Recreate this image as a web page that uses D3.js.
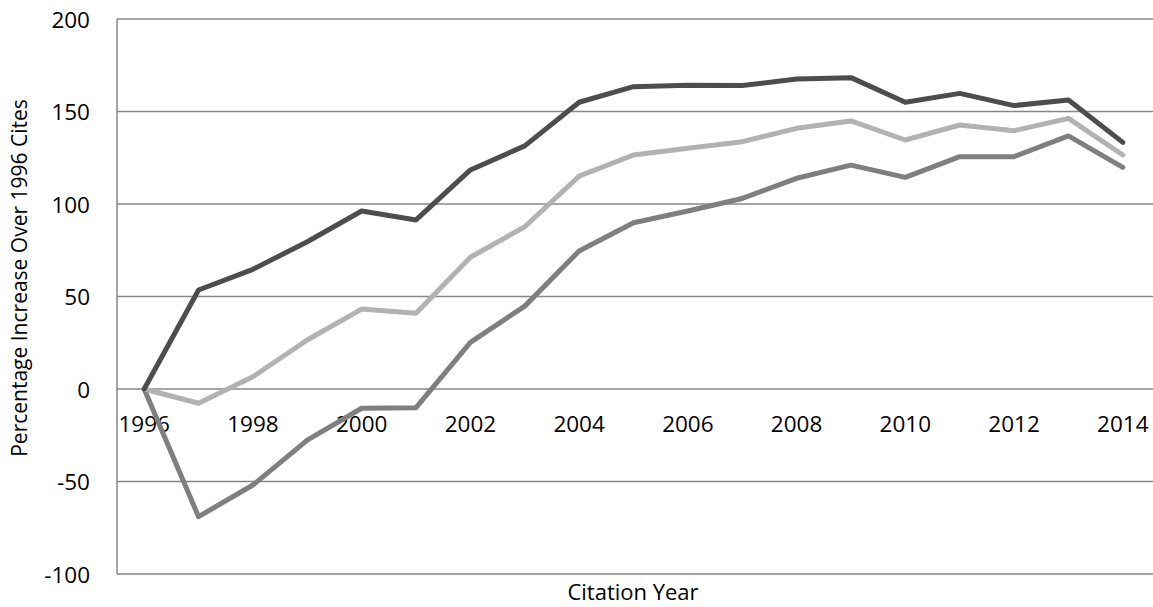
<!DOCTYPE html>
<html>
<head>
<meta charset="utf-8">
<script src="https://cdn.jsdelivr.net/npm/d3@7"></script>
<style>
  html, body { margin: 0; padding: 0; background: #fff; }
  svg text { font-family: "Open Sans", Lato, sans-serif; fill: #000; }
</style>
</head>
<body>
<svg id="chart" width="1153" height="607"></svg>
<script>
const years = [1996,1997,1998,1999,2000,2001,2002,2003,2004,2005,2006,2007,2008,2009,2010,2011,2012,2013,2014];
const xTickLabels = ["1996","1998","2000","2002","2004","2006","2008","2010","2012","2014"];
const yTicks = [-100,-50,0,50,100,150,200];
const seriesDark   = [0,53.5,64.7,79.6,96.2,91.4,118.4,131.4,155,163.4,164.2,164,167.6,168.3,155,159.8,153.2,156.2,133.3];
const seriesLight  = [0,-7.7,6.6,26.5,43.2,40.9,71.2,87.7,115.1,126.5,130.1,133.7,140.9,144.9,134.6,142.7,139.6,146.3,126.5];
const seriesMedium = [0,-69,-51.9,-27.6,-10.4,-10.1,25.2,44.8,74.6,89.9,96.2,103,113.9,121,114.4,125.6,125.6,136.8,119.8];
const seriesColors = ["#7f7f7f", "#b2b2b2", "#4d4d4d"];

(function () {
const svg = d3.select("#chart");
const W = 1153;
const pLeft = 117, pRight = 1150, pTop = 19, pBottom = 574;

const x = d3.scalePoint().domain(years).range([pLeft, pRight]).padding(0.5);
const y = d3.scaleLinear().domain([-100, 200]).range([pBottom, pTop]);

// gridlines
svg.append("g").selectAll("line").data(yTicks).join("line")
  .attr("x1", pLeft).attr("x2", W)
  .attr("y1", d => y(d)).attr("y2", d => y(d))
  .attr("stroke", "#878787").attr("stroke-width", 1.5);

// left axis line
svg.append("line")
  .attr("x1", pLeft).attr("x2", pLeft).attr("y1", y(200)).attr("y2", y(-100))
  .attr("stroke", "#878787").attr("stroke-width", 1.5);

// y tick labels
svg.append("g").selectAll("text").data(yTicks).join("text")
  .attr("x", 90).attr("y", d => y(d))
  .attr("text-anchor", "end").attr("dominant-baseline", "central")
  .style("font-size", "22.5px")
  .text(d => d);

// x tick labels
svg.append("g").selectAll("text").data(xTickLabels).join("text")
  .attr("x", d => x(+d)).attr("y", y(0) + 43)
  .attr("text-anchor", "middle")
  .style("font-size", "22.5px")
  .text(d => d);

// axis titles
svg.append("text")
  .attr("x", 633).attr("y", 600)
  .attr("text-anchor", "middle").style("font-size", "22px")
  .text("Citation Year");

svg.append("text")
  .attr("transform", "translate(27, 278) rotate(-90)")
  .attr("text-anchor", "middle").style("font-size", "21px")
  .text("Percentage Increase Over 1996 Cites");

// lines
const line = d3.line().x((d, i) => x(years[i])).y(d => y(d));
const allSeries = [seriesMedium, seriesLight, seriesDark];
svg.append("g").selectAll("path").data(allSeries).join("path")
  .attr("d", d => line(d))
  .attr("fill", "none")
  .attr("stroke", (d, i) => seriesColors[i])
  .attr("stroke-width", 5)
  .attr("stroke-linejoin", "round")
  .attr("stroke-linecap", "round");
})();
</script>
</body>
</html>
